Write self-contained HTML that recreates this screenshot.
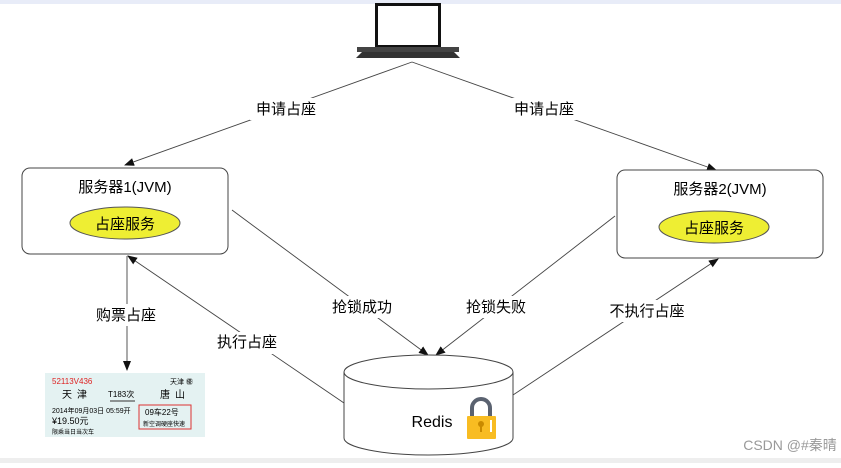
<!DOCTYPE html>
<html><head><meta charset="utf-8"><style>
body{margin:0;width:841px;height:463px;background:#fff;overflow:hidden;font-family:"Liberation Sans","Noto Sans CJK SC",sans-serif;}
svg text{font-family:"Liberation Sans","Noto Sans CJK SC",sans-serif;}
</style></head><body>
<svg width="841" height="463" viewBox="0 0 841 463" xmlns="http://www.w3.org/2000/svg">
<defs><marker id="a" markerWidth="10" markerHeight="8" refX="9" refY="4" orient="auto" markerUnits="userSpaceOnUse"><path d="M0,0 L10,4 L0,8 z" fill="#111"/></marker></defs>
<rect x="0" y="0" width="841" height="4" fill="#e8ecf8"/>
<rect x="0" y="458" width="841" height="5" fill="#eeeeee"/>
<!-- laptop -->
<rect x="375" y="3" width="66" height="44" fill="#111"/>
<rect x="378" y="6" width="60" height="39" fill="#fff"/>
<path d="M362,52 L454,52 L460,58 L356,58 z" fill="#333"/>
<rect x="357" y="47" width="102" height="5" fill="#444"/>
<!-- lines -->
<g stroke="#444" stroke-width="0.9" fill="none">
<line x1="412" y1="62" x2="125" y2="165" marker-end="url(#a)"/>
<line x1="412" y1="62" x2="716" y2="170" marker-end="url(#a)"/>
<line x1="232" y1="210" x2="428" y2="355" marker-end="url(#a)"/>
<line x1="615" y1="216" x2="436" y2="355" marker-end="url(#a)"/>
<line x1="344" y1="403" x2="128" y2="256" marker-end="url(#a)"/>
<line x1="513" y1="395" x2="718" y2="259" marker-end="url(#a)"/>
<line x1="127" y1="256" x2="127" y2="370" marker-end="url(#a)"/>
</g>
<!-- servers -->
<rect x="22" y="168" width="206" height="86" rx="8" fill="#fff" stroke="#444"/>
<text x="125" y="192" font-size="15" text-anchor="middle">服务器1(JVM)</text>
<ellipse cx="125" cy="223" rx="55" ry="16" fill="#eeee33" stroke="#555"/>
<text x="125" y="229" font-size="15" text-anchor="middle">占座服务</text>
<rect x="617" y="170" width="206" height="88" rx="8" fill="#fff" stroke="#444"/>
<text x="720" y="194" font-size="15" text-anchor="middle">服务器2(JVM)</text>
<ellipse cx="714" cy="227" rx="55" ry="16" fill="#eeee33" stroke="#555"/>
<text x="714" y="233" font-size="15" text-anchor="middle">占座服务</text>
<!-- labels -->
<g font-size="15" text-anchor="middle">
<rect x="250" y="98" width="70" height="22" fill="#fff"/><text x="286" y="114">申请占座</text>
<rect x="508" y="98" width="70" height="22" fill="#fff"/><text x="544" y="114">申请占座</text>
<rect x="326" y="296" width="70" height="22" fill="#fff"/><text x="362" y="312">抢锁成功</text>
<rect x="460" y="296" width="70" height="22" fill="#fff"/><text x="496" y="312">抢锁失败</text>
<rect x="605" y="300" width="85" height="22" fill="#fff"/><text x="647" y="316">不执行占座</text>
<rect x="212" y="332" width="70" height="22" fill="#fff"/><text x="247" y="347">执行占座</text>
<rect x="92" y="304" width="70" height="22" fill="#fff"/><text x="126" y="320">购票占座</text>
</g>
<!-- redis -->
<path d="M344,372 L344,438 A84.5,17 0 0 0 513,438 L513,372" fill="#fff" stroke="#444"/>
<ellipse cx="428.5" cy="372" rx="84.5" ry="17" fill="#fff" stroke="#444"/>
<text x="432" y="427" font-size="16" text-anchor="middle">Redis</text>
<path d="M472,418 L472,408 A9,9 0 0 1 490,408 L490,418" fill="none" stroke="#5a6270" stroke-width="4"/>
<rect x="467" y="416" width="29" height="23" rx="1" fill="#f8bc22"/>
<circle cx="481" cy="424" r="3" fill="#c98a00"/><rect x="480" y="425" width="2" height="7" fill="#c98a00"/>
<rect x="490" y="420" width="2" height="12" fill="#fff"/>
<!-- ticket -->
<rect x="45" y="373" width="160" height="64" fill="#e4f2f2"/>
<text x="52" y="384" font-size="8" fill="#d22">52113V436</text>
<text x="170" y="384" font-size="7">天津 ㊝</text>
<text x="62" y="398" font-size="10" letter-spacing="5">天津</text>
<text x="108" y="397" font-size="8">T183次</text>
<line x1="110" y1="401" x2="135" y2="401" stroke="#333"/>
<text x="160" y="398" font-size="10" letter-spacing="5">唐山</text>
<text x="52" y="413" font-size="7">2014年09月03日 05:59开</text>
<text x="52" y="424" font-size="9">¥19.50元</text>
<text x="52" y="434" font-size="6">限乘当日当次车</text>
<rect x="139" y="405" width="52" height="24" fill="none" stroke="#d33" stroke-width="1"/>
<text x="145" y="415" font-size="8">09车22号</text>
<text x="143" y="426" font-size="6">新空调硬座快速</text>
<text x="790" y="450" font-size="14" fill="#999" text-anchor="middle">CSDN @#秦晴</text>
</svg>
</body></html>
